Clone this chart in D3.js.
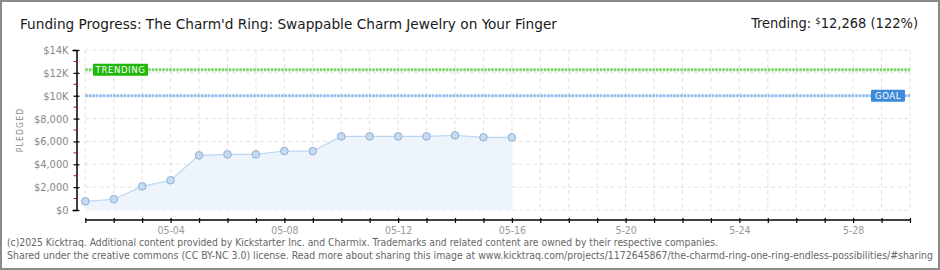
<!DOCTYPE html>
<html>
<head>
<meta charset="utf-8">
<script src="https://cdn.jsdelivr.net/npm/d3@7"></script>
<style>
  body { margin: 0; background: #fff; }
  svg { display: block; }
</style>
</head>
<body>
<div class="chart"></div>
<script>
// data
var days = ["2025-05-01","2025-05-02","2025-05-03","2025-05-04","2025-05-05","2025-05-06","2025-05-07","2025-05-08",
            "2025-05-09","2025-05-10","2025-05-11","2025-05-12","2025-05-13","2025-05-14","2025-05-15","2025-05-16"];
var pledged = [760, 940, 2070, 2600, 4780, 4870, 4870, 5160, 5150, 6440, 6440, 6440, 6440, 6530, 6360, 6360];
var goal = 10000;
var trending = 12268;
var yTicks = [0, 2000, 4000, 6000, 8000, 10000, 12000, 14000];
var yTickLabels = ["$0", "$2,000", "$4,000", "$6,000", "$8,000", "$10K", "$12K", "$14K"];
var xTickDays = ["2025-05-04","2025-05-08","2025-05-12","2025-05-16","2025-05-20","2025-05-24","2025-05-28"];
var xTickLabels = ["05-04", "05-08", "05-12", "05-16", "5-20", "5-24", "5-28"];

var W = 940, H = 270;
var parse = d3.utcParse("%Y-%m-%d");
var start = parse("2025-05-01"), end = parse("2025-05-30");

var svg = d3.select(".chart").append("svg").attr("width", W).attr("height", H);

// frame
svg.append("rect").attr("x", 1).attr("y", 1).attr("width", W - 2).attr("height", H - 2)
   .attr("fill", "#fff").attr("stroke", "#8a8a8a").attr("stroke-width", 2);

var x = d3.scaleUtc().domain([start, end]).range([85.3, 910]);
var y = d3.scaleLinear().domain([0, 14000]).range([210, 50]);

var font = "'DejaVu Sans Condensed', 'DejaVu Sans', sans-serif";

// grid
var allDays = d3.utcDay.range(start, d3.utcDay.offset(end, 1));
svg.append("g").selectAll("line").data(allDays).enter().append("line")
   .attr("x1", function (d) { return x(d); }).attr("x2", function (d) { return x(d); })
   .attr("y1", y(14000)).attr("y2", y(0))
   .attr("stroke", "#e2e2e2").attr("stroke-dasharray", "4,3");
svg.append("g").selectAll("line").data(yTicks).enter().append("line")
   .attr("x1", x(start)).attr("x2", x(end))
   .attr("y1", function (d) { return y(d); }).attr("y2", function (d) { return y(d); })
   .attr("stroke", "#e2e2e2").attr("stroke-dasharray", "4,3");

// area + line + points
var pts = days.map(function (d, i) { return { date: parse(d), v: pledged[i] }; });
svg.append("path").datum(pts)
   .attr("d", d3.area().x(function (d) { return x(d.date); }).y0(y(0)).y1(function (d) { return y(d.v); }))
   .attr("fill", "#edf4fc");
svg.append("path").datum(pts)
   .attr("d", d3.line().x(function (d) { return x(d.date); }).y(function (d) { return y(d.v); }))
   .attr("fill", "none").attr("stroke", "#bcd6f2").attr("stroke-width", 1.2);
svg.append("g").selectAll("circle").data(pts).enter().append("circle")
   .attr("cx", function (d) { return x(d.date); }).attr("cy", function (d) { return y(d.v); })
   .attr("r", 3.8).attr("fill", "#c2dcf6").attr("stroke", "#93adc9").attr("stroke-width", 1);

// goal and trending lines
svg.append("line").attr("x1", x(start)).attr("x2", x(end)).attr("y1", y(trending)).attr("y2", y(trending))
   .attr("stroke", "#78d468").attr("stroke-width", 3).attr("stroke-dasharray", "2.5,1");
svg.append("line").attr("x1", x(start)).attr("x2", x(end)).attr("y1", y(goal)).attr("y2", y(goal))
   .attr("stroke", "#8ebbea").attr("stroke-width", 3).attr("stroke-dasharray", "2.5,1");

// labels on the lines
svg.append("rect").attr("x", 93).attr("y", y(trending) - 6).attr("width", 55).attr("height", 12)
   .attr("fill", "#1fb80a").attr("rx", 1);
svg.append("text").attr("x", 120.5).attr("y", y(trending) + 3.5).attr("text-anchor", "middle")
   .attr("font-family", font).attr("font-size", 9.5).attr("fill", "#fff").attr("letter-spacing", 0.6)
   .text("TRENDING");
svg.append("rect").attr("x", 871).attr("y", y(goal) - 6).attr("width", 34).attr("height", 12)
   .attr("fill", "#3d8bd9").attr("rx", 1);
svg.append("text").attr("x", 888).attr("y", y(goal) + 3.5).attr("text-anchor", "middle")
   .attr("font-family", font).attr("font-size", 9.5).attr("fill", "#fff").attr("letter-spacing", 0.6)
   .text("GOAL");

// y axis
var yAxis = d3.axisLeft(y).tickValues(yTicks).tickSize(4)
   .tickFormat(function (d, i) { return yTickLabels[i]; });
var gy = svg.append("g").attr("transform", "translate(76.5,0)").call(yAxis);
gy.select(".domain").attr("stroke", "#000").attr("stroke-width", 1.5);
gy.selectAll(".tick line").attr("stroke", "#000").attr("stroke-width", 1.2).attr("x2", 3).attr("x1", -3);
gy.selectAll(".tick text").attr("x", -8).attr("font-family", font).attr("font-size", 11).attr("fill", "#888");
var minor = d3.range(1000, 14000, 2000);
gy.selectAll(".minor").data(minor).enter().append("line").attr("class", "minor")
   .attr("x1", -3).attr("x2", 0).attr("y1", function (d) { return y(d); }).attr("y2", function (d) { return y(d); })
   .attr("stroke", "#e00000").attr("stroke-width", 1);

svg.append("text").attr("transform", "translate(23,130) rotate(-90)").attr("text-anchor", "middle")
   .attr("font-family", font).attr("font-size", 8.5).attr("fill", "#888").attr("letter-spacing", 1.2)
   .text("PLEDGED");

// x axis
var xAxis = d3.axisBottom(x).tickValues(allDays).tickSize(3).tickFormat(function (d) {
  var k = xTickDays.indexOf(d3.utcFormat("%Y-%m-%d")(d));
  return k < 0 ? "" : xTickLabels[k];
});
var gx = svg.append("g").attr("transform", "translate(0,220)").call(xAxis);
gx.select(".domain").attr("stroke", "#000").attr("stroke-width", 1.5).attr("d", "M" + x(start) + ",0H" + x(end));
gx.selectAll(".tick line").attr("stroke", "#000").attr("stroke-width", 1.2).attr("y1", -2).attr("y2", 3);
gx.selectAll(".tick text").attr("y", 7).attr("font-family", font).attr("font-size", 10.5).attr("fill", "#999");

// titles
svg.append("text").attr("x", 20).attr("y", 29).attr("font-family", font).attr("font-size", 14.5).attr("fill", "#1a1a1a")
   .attr("textLength", 537).attr("lengthAdjust", "spacingAndGlyphs")
   .text("Funding Progress: The Charm'd Ring: Swappable Charm Jewelry on Your Finger");
var tr = svg.append("text").attr("x", 918).attr("y", 28).attr("text-anchor", "end")
   .attr("font-family", font).attr("font-size", 14.5).attr("fill", "#1a1a1a");
tr.append("tspan").text("Trending:  ");
tr.append("tspan").attr("font-size", 9.5).attr("dy", -4).text("$");
tr.append("tspan").attr("dy", 4).text("12,268 (122%)");

// footer
var foot = ["(c)2025 Kicktraq. Additional content provided by Kickstarter Inc. and Charmix. Trademarks and related content are owned by their respective companies.",
            "Shared under the creative commons (CC BY-NC 3.0) license. Read more about sharing this image at www.kicktraq.com/projects/1172645867/the-charmd-ring-one-ring-endless-possibilities/#sharing"];
svg.append("text").attr("x", 7).attr("y", 246).attr("font-family", font).attr("font-size", 10).attr("fill", "#666")
   .attr("textLength", 711).attr("lengthAdjust", "spacingAndGlyphs").text(foot[0]);
svg.append("text").attr("x", 7).attr("y", 259).attr("font-family", font).attr("font-size", 10).attr("fill", "#666")
   .attr("textLength", 926).attr("lengthAdjust", "spacingAndGlyphs").text(foot[1]);
</script>
</body>
</html>
